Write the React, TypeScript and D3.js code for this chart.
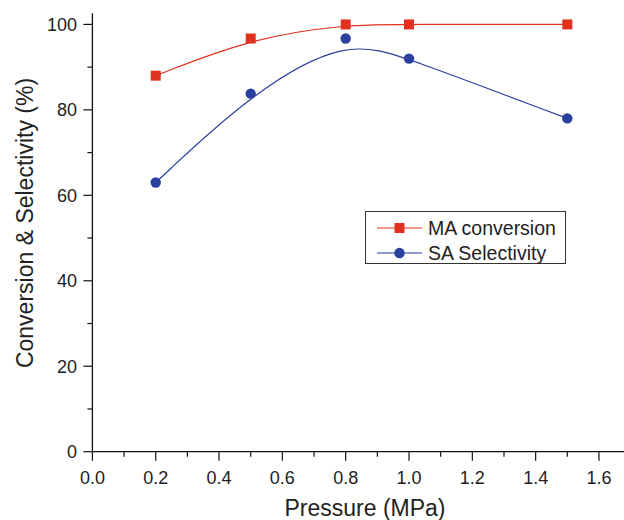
import React, { useRef, useEffect } from 'react';
import * as d3 from 'd3';

const pressure = [0.2, 0.5, 0.8, 1.0, 1.5];
const maConversion = [88, 96.7, 100, 100, 100];
const saSelectivity = [63, 83.8, 96.7, 92, 78];
const xTicks = [0, 0.2, 0.4, 0.6, 0.8, 1.0, 1.2, 1.4, 1.6];
const yTicks = [0, 20, 40, 60, 80, 100];
const seriesNames = ['MA conversion', 'SA Selectivity'];

const RED = '#e2301f';
const BLUE = '#2b3f9f';
const FONT = '"Liberation Sans", Arial, Helvetica, sans-serif';

function App() {
  const chartRef = useRef<SVGSVGElement>(null);

  useEffect(() => {
    drawChart();
  }, []);

  const drawChart = () => {
    const svg = d3.select(chartRef.current);
    svg.selectAll('*').remove();

    const x = d3.scaleLinear().domain([0, 1.68]).range([92.4, 624.3]);
    const y = d3.scaleLinear().domain([0, 102.6]).range([451.7, 13.3]);

    // axes lines
    svg
      .append('line')
      .attr('x1', x(0))
      .attr('x2', x(1.68))
      .attr('y1', y(0))
      .attr('y2', y(0))
      .attr('stroke', '#111')
      .attr('stroke-width', 1.3);
    svg
      .append('line')
      .attr('x1', x(0))
      .attr('x2', x(0))
      .attr('y1', y(0))
      .attr('y2', y(102.6))
      .attr('stroke', '#111')
      .attr('stroke-width', 1.3);

    // x ticks (major + minor)
    const xMinor = d3.range(0.1, 1.7, 0.2);
    svg
      .selectAll('.xminor')
      .data(xMinor)
      .enter()
      .append('line')
      .attr('x1', (d) => x(d))
      .attr('x2', (d) => x(d))
      .attr('y1', y(0))
      .attr('y2', y(0) + 5)
      .attr('stroke', '#111')
      .attr('stroke-width', 1.2);
    svg
      .selectAll('.xmajor')
      .data(xTicks)
      .enter()
      .append('line')
      .attr('x1', (d) => x(d))
      .attr('x2', (d) => x(d))
      .attr('y1', y(0))
      .attr('y2', y(0) + 9)
      .attr('stroke', '#111')
      .attr('stroke-width', 1.2);
    svg
      .selectAll('.xlabel')
      .data(xTicks)
      .enter()
      .append('text')
      .attr('x', (d) => x(d))
      .attr('y', 484)
      .attr('text-anchor', 'middle')
      .attr('font-family', FONT)
      .attr('font-size', 18)
      .attr('fill', '#222')
      .text((d) => d.toFixed(1));

    // y ticks (major + minor)
    const yMinor = d3.range(10, 101, 20);
    svg
      .selectAll('.yminor')
      .data(yMinor)
      .enter()
      .append('line')
      .attr('x1', x(0) - 5)
      .attr('x2', x(0))
      .attr('y1', (d) => y(d))
      .attr('y2', (d) => y(d))
      .attr('stroke', '#111')
      .attr('stroke-width', 1.2);
    svg
      .selectAll('.ymajor')
      .data(yTicks)
      .enter()
      .append('line')
      .attr('x1', x(0) - 9)
      .attr('x2', x(0))
      .attr('y1', (d) => y(d))
      .attr('y2', (d) => y(d))
      .attr('stroke', '#111')
      .attr('stroke-width', 1.2);
    svg
      .selectAll('.ylabel')
      .data(yTicks)
      .enter()
      .append('text')
      .attr('x', 77)
      .attr('y', (d) => y(d) + 6.5)
      .attr('text-anchor', 'end')
      .attr('font-family', FONT)
      .attr('font-size', 18)
      .attr('fill', '#222')
      .text((d) => d);

    // axis titles
    svg
      .append('text')
      .attr('x', 365)
      .attr('y', 516)
      .attr('text-anchor', 'middle')
      .attr('font-family', FONT)
      .attr('font-size', 23)
      .attr('fill', '#222')
      .text('Pressure (MPa)');
    svg
      .append('text')
      .attr('transform', 'translate(33,223) rotate(-90)')
      .attr('text-anchor', 'middle')
      .attr('font-family', FONT)
      .attr('font-size', 23)
      .attr('fill', '#222')
      .text('Conversion & Selectivity (%)');

    // curves
    const line = d3
      .line<number>()
      .x((d, i) => x(pressure[i]))
      .y((d) => y(d))
      .curve(d3.curveBasis);

    svg
      .append('path')
      .attr('d', line(maConversion))
      .attr('fill', 'none')
      .attr('stroke', RED)
      .attr('stroke-width', 1.2);
    svg
      .append('path')
      .attr('d', line(saSelectivity))
      .attr('fill', 'none')
      .attr('stroke', BLUE)
      .attr('stroke-width', 1.2);

    // markers
    svg
      .selectAll('.sq')
      .data(maConversion)
      .enter()
      .append('rect')
      .attr('x', (d, i) => x(pressure[i]) - 5)
      .attr('y', (d) => y(d) - 5)
      .attr('width', 10)
      .attr('height', 10)
      .attr('fill', RED);
    svg
      .selectAll('.dot')
      .data(saSelectivity)
      .enter()
      .append('circle')
      .attr('cx', (d, i) => x(pressure[i]))
      .attr('cy', (d) => y(d))
      .attr('r', 5.2)
      .attr('fill', BLUE);

    // legend
    const lg = svg.append('g');
    lg.append('rect')
      .attr('x', 365.5)
      .attr('y', 211.5)
      .attr('width', 200)
      .attr('height', 52)
      .attr('fill', 'white')
      .attr('stroke', '#333')
      .attr('stroke-width', 1);
    seriesNames.forEach((name, i) => {
      const cy = 228 + i * 25;
      const color = i === 0 ? RED : BLUE;
      lg.append('line')
        .attr('x1', 377)
        .attr('x2', 422)
        .attr('y1', cy)
        .attr('y2', cy)
        .attr('stroke', color)
        .attr('stroke-width', i === 0 ? 1.2 : 1.6)
        .attr('stroke-opacity', i === 0 ? 1 : 0.7);
      if (i === 0) {
        lg.append('rect')
          .attr('x', 394.5)
          .attr('y', cy - 5)
          .attr('width', 10)
          .attr('height', 10)
          .attr('fill', color);
      } else {
        lg.append('circle').attr('cx', 399.5).attr('cy', cy).attr('r', 5.2).attr('fill', color);
      }
      lg.append('text')
        .attr('x', 428)
        .attr('y', cy + 7)
        .attr('font-family', FONT)
        .attr('font-size', 19.5)
        .attr('fill', '#222')
        .text(name);
    });
  };

  return (
    <svg
      ref={chartRef}
      width={624}
      height={520}
      style={{ position: 'absolute', left: 0, top: 0, background: 'white' }}
    />
  );
}

export default App;
